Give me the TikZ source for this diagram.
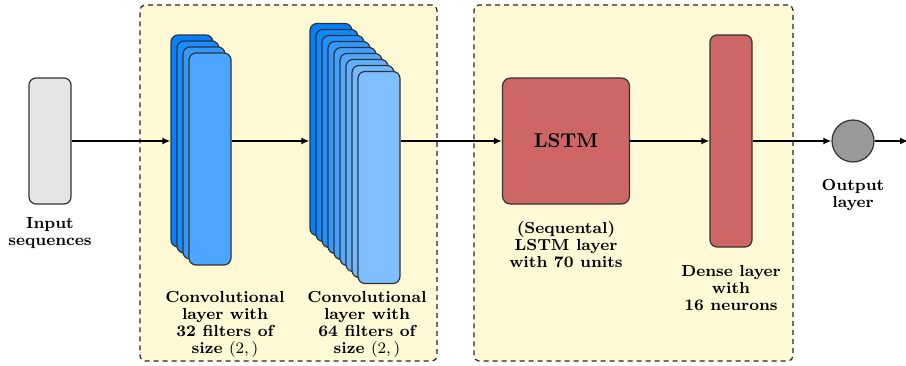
\documentclass[tikz,border=0pt]{standalone}
\usepackage{amsmath}
\usepackage{tikz}
\usetikzlibrary{arrows.meta}
\definecolor{convblue}{RGB}{0,128,255}
\definecolor{lstmred}{RGB}{206,102,102}
\definecolor{grpyellow}{RGB}{255,249,214}
\tikzset{
  layerbox/.style={draw=black!80, line width=0.6pt, rounded corners=3.5pt, inner sep=0pt},
  inbox/.style={layerbox, fill=black!10, minimum width=21pt, minimum height=63pt},
  mapbox/.style={layerbox, minimum width=21pt, minimum height=106pt},
  lstmbox/.style={layerbox, fill=lstmred, minimum width=63.5pt, minimum height=63pt, font=\bfseries, rounded corners=4pt},
  densebox/.style={layerbox, fill=lstmred, minimum width=21pt, minimum height=106pt},
  outnode/.style={circle, draw=black!80, line width=0.6pt, fill=black!40, minimum size=21pt, inner sep=0pt},
  group/.style={draw=black!85, line width=0.6pt, dash pattern=on 2.5pt off 2pt, fill=grpyellow, rounded corners=2.5pt, inner sep=0pt},
  caption/.style={align=center, font=\fontsize{8}{8.5}\selectfont\bfseries},
  flow/.style={-{Latex[length=4pt,width=3.5pt]}, thick}
}

\begin{document}
\begin{tikzpicture}[x=0.5pt, y=-0.5pt]
\useasboundingbox (0,0) rectangle (906,365);

\node[group, minimum width=148.5pt, minimum height=178pt] (convgrp) at (288.5,183) {};
\node[group, minimum width=159.5pt, minimum height=178pt] (lstmgrp) at (633.5,183) {};

\node[inbox] (in) at (50,141) {};
\foreach \k in {1,...,4}{
  \pgfmathsetmacro{\w}{100-10*(\k-1)}
  \node[mapbox, fill=convblue!\w!white] (ca-\k) at ({192+6*(\k-1)},{141+6*(\k-1)}) {};
}
\foreach \k in {1,...,9}{
  \pgfmathsetmacro{\w}{100-6.25*(\k-1)}
  \node[mapbox, fill=convblue!\w!white] (cb-\k) at ({331+6*(\k-1)},{129.5+6*(\k-1)}) {};
}
\node[lstmbox] (lstm) at (566,141) {LSTM};
\node[densebox] (dense) at (731,141) {};
\node[outnode] (out) at (853,141) {};
\coordinate (end) at (908,141);

\draw[flow] (in.east) -- (ca-1.west);
\draw[flow] (ca-4.east |- in.east) -- (cb-1.west |- in.east);
\draw[flow] (cb-9.east |- in.east) -- (lstm.west);
\draw[flow] (lstm.east) -- (dense.west);
\draw[flow] (dense.east) -- (out.west);
\draw[flow] (out.east) -- (end);

\node[caption] (incap) at (50,233) {Input\\sequences};
\node[caption] (cacap) at (225,324.5) {Convolutional\\layer with\\32 filters of\\size $(2,)$};
\node[caption] (cbcap) at (367,324.5) {Convolutional\\layer with\\64 filters of\\size $(2,)$};
\node[caption] (lstmcap) at (566,245) {(Sequental)\\LSTM layer\\with 70 units};
\node[caption] (densecap) at (731,288) {Dense layer\\with\\16 neurons};
\node[caption] (outcap) at (853,195) {Output\\layer};
\end{tikzpicture}
\end{document}
